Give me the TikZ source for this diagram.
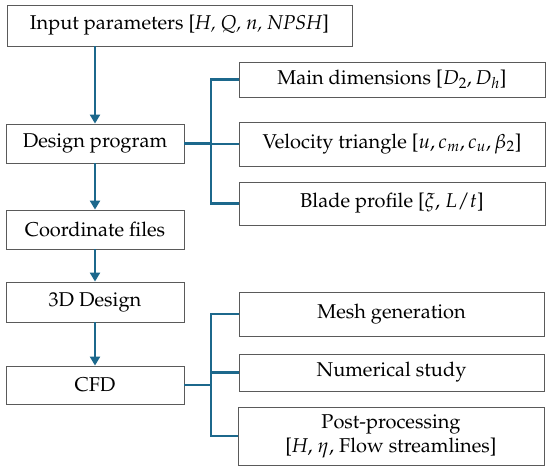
\documentclass[tikz,border=0pt]{standalone}
\usepackage[T1]{fontenc}
\usepackage{mathpazo}
\usetikzlibrary{arrows.meta}
\definecolor{linkblue}{RGB}{28,104,140}
\definecolor{boxgray}{RGB}{90,90,90}
\tikzset{
  box/.style={draw=boxgray, line width=0.9pt, fill=white, inner sep=0pt, align=center,
    font=\fontsize{20}{22}\selectfont},
  flow/.style={draw=linkblue, line width=2.2pt, -{Triangle[length=9pt,width=10pt]}},
  link/.style={draw=linkblue, line width=2.2pt}
}
\begin{document}
\begin{tikzpicture}[x=1pt,y=-1pt]
\useasboundingbox (0,0) rectangle (550,471);
% left column
\node[box, minimum width=345pt, minimum height=41pt] (in) at (179.5,25.5) {Input parameters [\textit{H, Q, n, NPSH}]};
\node[box, minimum width=178pt, minimum height=39pt] (dp) at (95,143.5) {Design program};
\node[box, minimum width=178pt, minimum height=39pt] (cf) at (95,229.5) {Coordinate files};
\node[box, minimum width=178pt, minimum height=40pt] (d3) at (95,302) {3D Design};
\node[box, minimum width=178pt, minimum height=38pt] (cfd) at (95,385) {CFD};
% right column
\node[box, minimum width=306pt, minimum height=35pt] (md) at (392,79.5) {Main dimensions [$D_2, D_h$]};
\node[box, minimum width=306pt, minimum height=44pt] (vt) at (392,144) {Velocity triangle [$u, c_m, c_u, \beta_2$]};
\node[box, minimum width=306pt, minimum height=43pt] (bp) at (392,203.5) {Blade profile [$\xi$, $L/t$]};
\node[box, minimum width=305pt, minimum height=44pt] (mg) at (391.5,314) {Mesh generation};
\node[box, minimum width=305pt, minimum height=37pt] (ns) at (391.5,372.5) {Numerical study};
\node[box, minimum width=306pt, minimum height=58pt, font=\fontsize{20}{24}\selectfont] (pp) at (391,436) {Post-processing\\{}[\textit{H}, $\eta$, Flow streamlines]};
% main flow
\coordinate (x0) at (95,0);
\draw[flow] (x0 |- in.south) -- (x0 |- dp.north);
\draw[flow] (dp.south) -- (cf.north);
\draw[flow] (cf.south) -- (d3.north);
\draw[flow] (d3.south) -- (cfd.north);
% bracket 1
\coordinate (b1) at (211,0);
\draw[link] (dp.east) -- (b1 |- dp.east);
\draw[link] (md.west) -- (b1 |- md.west) -- (b1 |- bp.west) -- (bp.west);
\draw[link] (b1 |- vt.west) -- (vt.west);
% bracket 2
\draw[link] (cfd.east) -- (b1 |- cfd.east);
\draw[link] (mg.west) -- (b1 |- mg.west) -- (b1 |- pp.west) -- (pp.west);
\draw[link] (b1 |- ns.west) -- (ns.west);
\end{tikzpicture}
\end{document}
